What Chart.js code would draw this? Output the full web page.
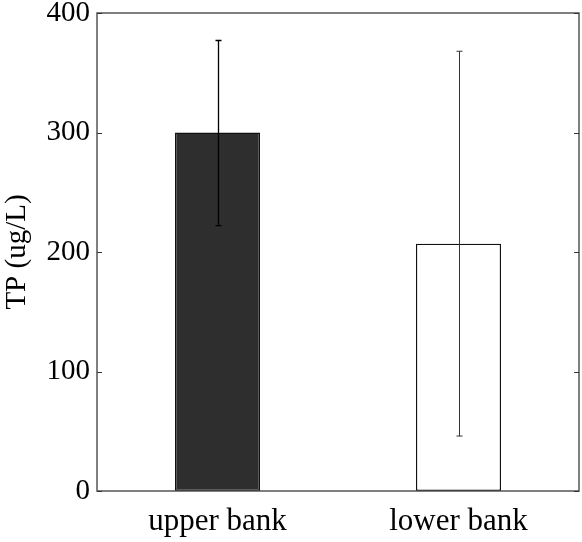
<!DOCTYPE html>
<html><head><meta charset="utf-8">
<script src="https://cdn.jsdelivr.net/npm/chart.js@4/dist/chart.umd.min.js"></script>
<style>html,body{margin:0;padding:0;background:#fff}#wrap{width:582px;height:542px}</style>
</head><body><div id="wrap"><canvas id="c" width="582" height="542"></canvas></div>
<script>
const categories = ["upper bank", "lower bank"];
const tpMean = [300, 207];
const errLow = [222, 46];
const errHigh = [377, 368];
const yTicks = [0, 100, 200, 300, 400];
const barFill = ["#2e2e2e", "#ffffff"];

const FONT = "'Liberation Serif', 'Times New Roman', serif";

const boxPlugin = {
  id: 'boxAndErr',
  afterDatasetsDraw(chart) {
    const ctx = chart.ctx, a = chart.chartArea, y = chart.scales.y, x = chart.scales.x;
    ctx.save();
    // error bars
    categories.forEach((c, i) => {
      const cx = Math.round(x.getPixelForValue(i)) + 0.5;
      const yt = y.getPixelForValue(errHigh[i]), yb = y.getPixelForValue(errLow[i]);
      ctx.strokeStyle = i === 0 ? '#000' : '#333';
      ctx.lineWidth = i === 0 ? 1.3 : 1;
      ctx.beginPath();
      ctx.moveTo(cx, yt); ctx.lineTo(cx, yb);
      ctx.moveTo(cx - 3, yt); ctx.lineTo(cx + 3, yt);
      ctx.moveTo(cx - 3, yb); ctx.lineTo(cx + 3, yb);
      ctx.stroke();
    });
    // box
    ctx.strokeStyle = '#555';
    ctx.lineWidth = 1.5;
    ctx.strokeRect(a.left, a.top, a.right - a.left, a.bottom - a.top);
    // ticks inside on left and right
    ctx.lineWidth = 1;
    ctx.strokeStyle = '#333';
    yTicks.forEach(v => {
      const py = Math.round(y.getPixelForValue(v)) + 0.5;
      ctx.beginPath();
      ctx.moveTo(a.left, py); ctx.lineTo(a.left + 5, py);
      ctx.moveTo(a.right, py); ctx.lineTo(a.right - 5, py);
      ctx.stroke();
    });
    ctx.restore();
  }
};

new Chart(document.getElementById('c'), {
  type: 'bar',
  data: {
    labels: categories,
    datasets: [{
      data: tpMean,
      backgroundColor: barFill,
      borderColor: '#111',
      borderWidth: 1.4,
      borderSkipped: false,
      categoryPercentage: 1,
      barPercentage: 0.353
    }]
  },
  options: {
    responsive: false,
    animation: false,
    devicePixelRatio: 1,
    layout: { padding: { top: 13, right: 3, left: 0, bottom: 0 } },
    plugins: { legend: { display: false }, tooltip: { enabled: false } },
    scales: {
      x: {
        grid: { display: false, drawTicks: false },
        border: { display: false },
        ticks: { color: '#000', font: { family: FONT, size: 31 }, padding: 12 },
        afterFit(s) { s.height = 51; s.paddingLeft = 0; s.paddingRight = 0; }
      },
      y: {
        min: 0, max: 400,
        afterBuildTicks(s) { s.ticks = yTicks.map(v => ({ value: v })); },
        grid: { display: false, drawTicks: false },
        border: { display: false },
        ticks: { color: '#000', font: { family: FONT, size: 29 }, padding: 7 },
        title: { display: true, text: 'TP (ug/L)', color: '#000', font: { family: FONT, size: 29 }, padding: 0 },
        afterFit(s) { s.width = 97; s.paddingTop = 0; s.paddingBottom = 0; }
      }
    }
  },
  plugins: [boxPlugin]
});
</script>
</body></html>
